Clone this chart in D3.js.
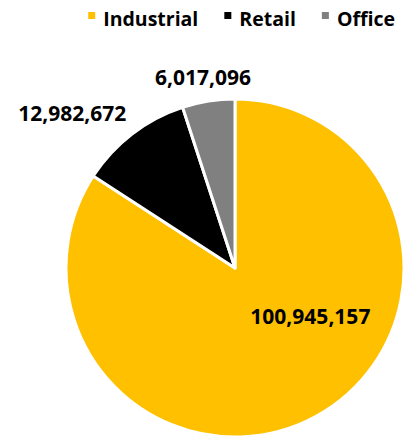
<!DOCTYPE html>
<html>
<head>
<meta charset="utf-8">
<script src="https://cdn.jsdelivr.net/npm/d3@7"></script>
<style>
	body { margin: 0; background: #fff; }
	text { font-family: "Open Sans", Lato, sans-serif; font-weight: bold; fill: #000; }
</style>
</head>
<body>
<svg id="chart" width="409" height="437"></svg>
<script>

// Data

var categories = ["Industrial", "Retail", "Office"];
var values = [100945157, 12982672, 6017096];
var colors = ["#FFC000", "#000000", "#808080"];

var svg = d3.select("#chart");

var cx = 235, cy = 268, radius = 169;

var pie = d3.pie().sort(null).value(function (d) { return d.value; });

var data = categories.map(function (c, i) {
	return { name: c, value: values[i], color: colors[i] };
});

var arcs = pie(data);

var arc = d3.arc().innerRadius(0).outerRadius(radius);

var g = svg.append("g").attr("transform", "translate(" + cx + "," + cy + ")");

g.selectAll("path")
.data(arcs)
.enter().append("path")
.attr("d", arc)
.style("fill", function (d) { return d.data.color; })
.style("stroke", "#fff")
.style("stroke-width", 3)
.style("stroke-linejoin", "round");

// Labels

var format = d3.format(",");

g.selectAll("text.label")
.data(arcs)
.enter().append("text")
.attr("class", "label")
.style("font-size", "21px")
.each(function (d, i) {
	var mid = (d.startAngle + d.endAngle) / 2;
	var t = d3.select(this).text(format(d.data.value));

	if (i == 0) {
		// inside, best fit
		var c = d3.arc().innerRadius(0).outerRadius(radius * 1.1).centroid(d);
		t.attr("x", c[0] + 31).attr("y", c[1] - 26).attr("text-anchor", "middle");
		return;
	}

	var r = radius + 16;
	var x = Math.sin(mid) * r;
	var y = -Math.cos(mid) * r;
	var anchor = Math.abs(Math.sin(mid)) < 0.3 ? "middle" : (x < 0 ? "end" : "start");
	if (anchor == "middle") x -= 3;
	else x += (x < 0 ? 4 : -4);
	t.attr("x", x).attr("y", y).attr("text-anchor", anchor);
});

// Legend (laid out from the right edge)

var legend = svg.selectAll("g.legend")
.data(data)
.enter().append("g")
.attr("class", "legend");

legend.append("rect")
.attr("x", 0)
.attr("y", 12)
.attr("width", 7)
.attr("height", 7)
.style("fill", function (d) { return d.color; });

legend.append("text")
.attr("x", 15)
.attr("y", 26)
.style("font-size", "19.5px")
.text(function (d) { return d.name; });

var right = 395;
var nodes = legend.nodes();
for (var i = nodes.length - 1; i >= 0; i--) {
	var w = d3.select(nodes[i]).select("text").node().getComputedTextLength();
	var left = right - w - 15;
	d3.select(nodes[i]).attr("transform", "translate(" + left + ",0)");
	right = left - 26;
}

</script>
</body>
</html>
